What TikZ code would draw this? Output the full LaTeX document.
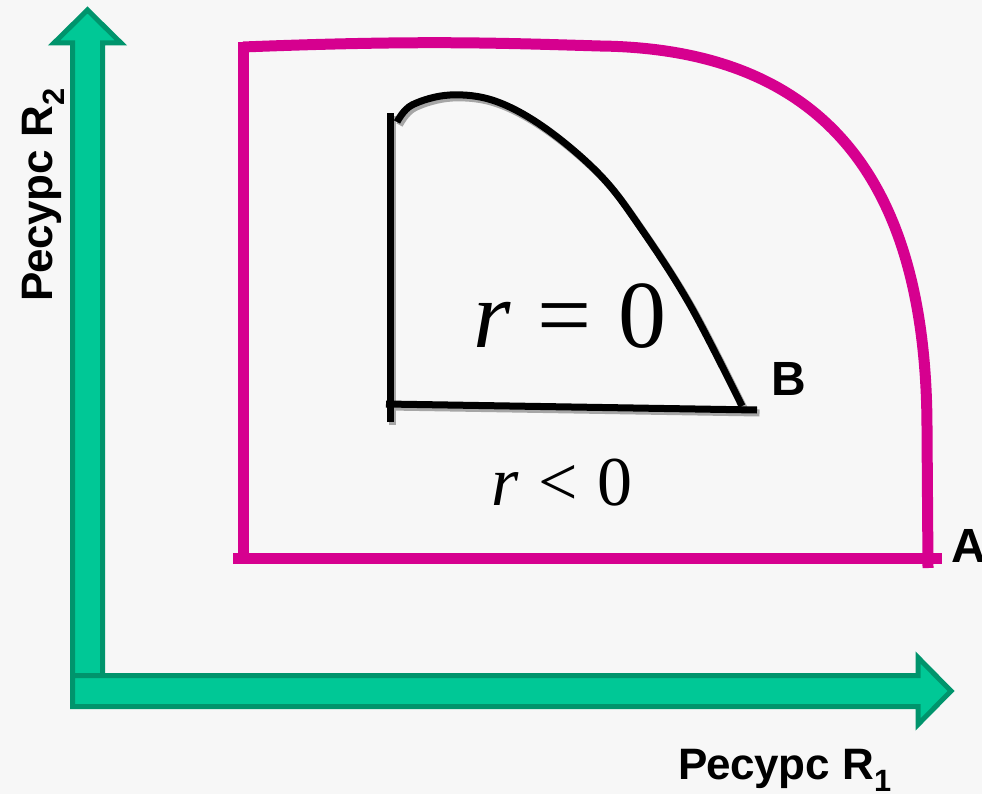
\documentclass[tikz,border=0pt]{standalone}
\usepackage{fontspec}
\setmainfont{Liberation Sans}
\newfontfamily\timesfont{Liberation Serif}
\usepackage{tikz}
\definecolor{axisfill}{HTML}{00C896}
\definecolor{axisedge}{HTML}{00946C}
\definecolor{bound}{HTML}{D6008F}
\definecolor{paper}{HTML}{F7F7F7}
\tikzset{
    axisarrow/.style={fill=axisfill,draw=axisedge,line width=5pt,line join=miter},
    outer/.style={draw=bound,line width=11pt},
    inner/.style={draw=black,line width=7pt},
    innershadow/.style={draw=black!35,line width=7pt},
    lbl/.style={inner sep=0pt,font=\bfseries\fontsize{44}{50}\selectfont}
}

\begin{document}
\begin{tikzpicture}[x=1pt,y=-1pt]
            \fill[paper] (0,0) rectangle (982,794);                          % Background
            \useasboundingbox (0,0) rectangle (982,794);
            \draw[axisarrow] (72.5,690)--(72.5,43)--(54,43)--(87.5,10)         % Vertical axis R2
                --(121,43)--(102.5,43)--(102.5,690)--cycle;
            \draw[axisarrow] (72.5,675.5)--(918,675.5)--(918,657.5)           % Horizontal axis R1
                --(951,691)--(918,724.5)--(918,706.5)--(72.5,706.5)--cycle;
            % Outer boundary through A
            \draw[outer] (243,42)--(243,563);
            \draw[outer] (233,558)--(942,558);
            \draw[outer] (243,47) .. controls (420,40) and (500,43) .. (600,46)
                .. controls (840,49) and (927,200) .. (927,430) -- (928,568);
            % Inner boundary through B, with its shadow
            \begin{scope}[shift={(2.5,3)}]
                \draw[innershadow] (390,422)--(390,113);
                \draw[innershadow] (386,404)--(757,410);
                \draw[innershadow] plot[smooth,tension=0.6] coordinates{(397,122) (412,105) (450,95)
                    (495,101) (545,128) (600,175) (640,227) (690,305) (742,406)};
            \end{scope}
            \draw[inner] (390,422)--(390,113);
            \draw[inner] (386,404)--(757,410);
            \draw[inner] plot[smooth,tension=0.6] coordinates{(397,122) (412,105) (450,95)
                (495,101) (545,128) (600,175) (640,227) (690,305) (742,406)};
            % Labels
            \node[inner sep=0pt,anchor=base,font=\timesfont\fontsize{96}{100}\selectfont]
                (req) at (570,347) {\textit{r}\hspace{0.28em}=\hspace{0.28em}0};
            \node[inner sep=0pt,anchor=base,font=\timesfont\fontsize{70}{76}\selectfont]
                (rlt) at (562,505) {\textit{r}\hspace{0.28em}<\hspace{0.28em}0};
            \node[inner sep=0pt,anchor=base west,font=\bfseries\fontsize{48}{52}\selectfont]
                (B) at (771,395) {B};
            \node[inner sep=0pt,anchor=base west,font=\bfseries\fontsize{48}{52}\selectfont]
                (A) at (951,562) {A};
            \node[lbl,anchor=base west] (Rone) at (678,779) {Ресурс R\textsubscript{1}};
            \node[lbl,anchor=base west,rotate=90] (Rtwo) at (52,302) {Ресурс R\textsubscript{2}};
        \end{tikzpicture}
\end{document}
